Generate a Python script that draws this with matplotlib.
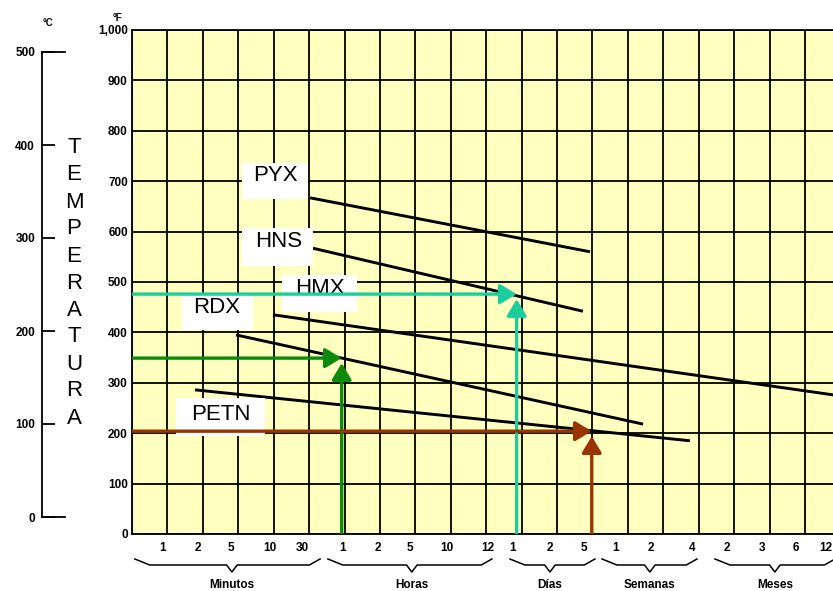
import matplotlib
matplotlib.use("Agg")
import matplotlib.pyplot as plt
import matplotlib.transforms as mtransforms
from matplotlib.patches import Rectangle, FancyArrowPatch

plt.rcParams['font.family'] = ['Liberation Sans', 'DejaVu Sans']

# time axis: one grid column per step (minutes, hours, days, weeks, months)
time_labels = ["1", "2", "5", "10", "30", "1", "2", "5", "10", "12",
               "1", "2", "5", "1", "2", "4", "2", "3", "6", "12"]
time_ticks = [0.85, 1.85, 2.8, 3.9, 4.8, 5.95, 6.95, 7.85, 8.9, 10.05,
              10.75, 11.8, 12.75, 13.65, 14.65, 15.8, 16.8, 17.8, 18.75, 19.6]

groups = ["Minutos", "Horas", "Días", "Semanas", "Meses"]
group_start = [0.08, 5.53, 10.67, 13.27, 16.46]
group_end = [5.31, 10.16, 13.07, 15.95, 19.85]
group_mid = [2.82, 7.9, 11.8, 14.62, 18.15]

f_ticks = [0, 100, 200, 300, 400, 500, 600, 700, 800, 900, 1000]
f_labels = ["0", "100", "200", "300", "400", "500", "600", "700", "800", "900", "1,000"]
c_ticks = [0, 100, 200, 300, 400, 500]

# explosives: straight lines, temperature (F) vs time index
names = ["PYX", "HNS", "HMX", "RDX", "PETN"]
t_start = [5.03, 5.11, 3.98, 2.94, 1.78]
t_end = [12.93, 12.73, 19.8, 14.43, 15.75]
f_start = [667, 567, 435, 395, 286]
f_end = [560, 442, 276, 218, 185]

# label boxes (x0, x1, f0, f1) and text anchor
label_boxes = [(3.11, 4.97, 665, 736), (3.11, 5.11, 532, 607), (4.23, 6.35, 440, 514),
               (1.41, 3.42, 405, 478), (1.24, 3.75, 194, 270)]
label_pos = [(4.04, 711), (4.15, 580), (5.31, 487), (2.40, 449), (2.51, 238)]

# reading examples (time index, temperature F)
read_t = [10.86, 5.92, 12.98]
read_f = [476, 349, 204]
read_colors = ['#1ccc9c', '#0b8a0b', '#993300']

fig = plt.figure(figsize=(8.33, 5.91), dpi=100)
ax = fig.add_axes([132 / 833, 57 / 591, 708.4 / 833, 504 / 591])
ax.set_facecolor('#ffffc0')
ax.set_xlim(0, 20)
ax.set_ylim(0, 1000)
ax.set_xticks(range(21))
ax.set_yticks(f_ticks)
ax.set_xticklabels([])
ax.set_yticklabels(f_labels, fontsize=8.5, fontweight='bold')
ax.tick_params(length=0, pad=3)
ax.grid(True, color='black', lw=1.3)
ax.set_axisbelow(True)
for s in ax.spines.values():
    s.set_color('black')
    s.set_linewidth(1.3)

for i in range(len(names)):
    ax.plot([t_start[i], t_end[i]], [f_start[i], f_end[i]], color='black', lw=2.1,
            solid_capstyle='butt', zorder=3)
    x0, x1, b0, b1 = label_boxes[i]
    ax.add_patch(Rectangle((x0, b0), x1 - x0, b1 - b0, facecolor='white',
                           edgecolor='none', zorder=4))
    ax.text(label_pos[i][0], label_pos[i][1], names[i], fontsize=16,
            ha='center', va='center', zorder=5)

for t, f, c in zip(read_t, read_f, read_colors):
    for p0, p1 in [((0, f), (t, f)), ((t, 0), (t, f - 10))]:
        ar = FancyArrowPatch(p0, p1, arrowstyle='-|>,head_length=0.5,head_width=0.3',
                             mutation_scale=20, color=c, lw=2.4,
                             shrinkA=0, shrinkB=0, zorder=6)
        ax.add_patch(ar)

trans = mtransforms.blended_transform_factory(ax.transData, ax.transAxes)
for pos, lab in zip(time_ticks, time_labels):
    ax.text(pos, -0.028, lab, transform=trans, ha='center', va='center',
            fontsize=8.5, fontweight='bold', clip_on=False)

top, flat, notch = -0.0496, -0.0615, -0.0754
for g, a, b, m in zip(groups, group_start, group_end, group_mid):
    xs = [a, a + 0.42, m - 0.15, m, m + 0.15, b - 0.3, b]
    ys = [top, flat, flat, notch, flat, flat, top]
    ax.plot(xs, ys, transform=trans, color='black', lw=1.1, clip_on=False)
    ax.text(m, -0.101, g, transform=trans, ha='center', va='center',
            fontsize=8.5, fontweight='bold', clip_on=False)

# Celsius scale
cax = fig.add_axes([42 / 833, 74 / 591, 30 / 833, 465 / 591])
cax.patch.set_visible(False)
cax.set_xlim(0, 1)
cax.set_ylim(0, 500)
for side in ['top', 'right', 'bottom']:
    cax.spines[side].set_visible(False)
cax.spines['left'].set_linewidth(1.3)
cax.set_xticks([])
cax.set_yticks(c_ticks)
cax.set_yticklabels([str(c) for c in c_ticks], fontsize=8.5, fontweight='bold')
cax.tick_params(axis='y', direction='in', length=9.4, width=1.3, pad=5)
for c in [0, 500]:
    cax.plot([0, 23 / 30], [c, c], color='black', lw=1.3, clip_on=False)

fig.text(48 / 833, 1 - 23 / 591, "°C", fontsize=7, fontweight='bold', ha='center', va='center')
fig.text(117 / 833, 1 - 18 / 591, "°F", fontsize=7, fontweight='bold', ha='center', va='center')
for i, ch in enumerate("TEMPERATURA"):
    fig.text(74 / 833, 1 - (148 + 27 * i) / 591, ch, fontsize=16, ha='center', va='center')

fig.savefig("out.png", dpi=100)
